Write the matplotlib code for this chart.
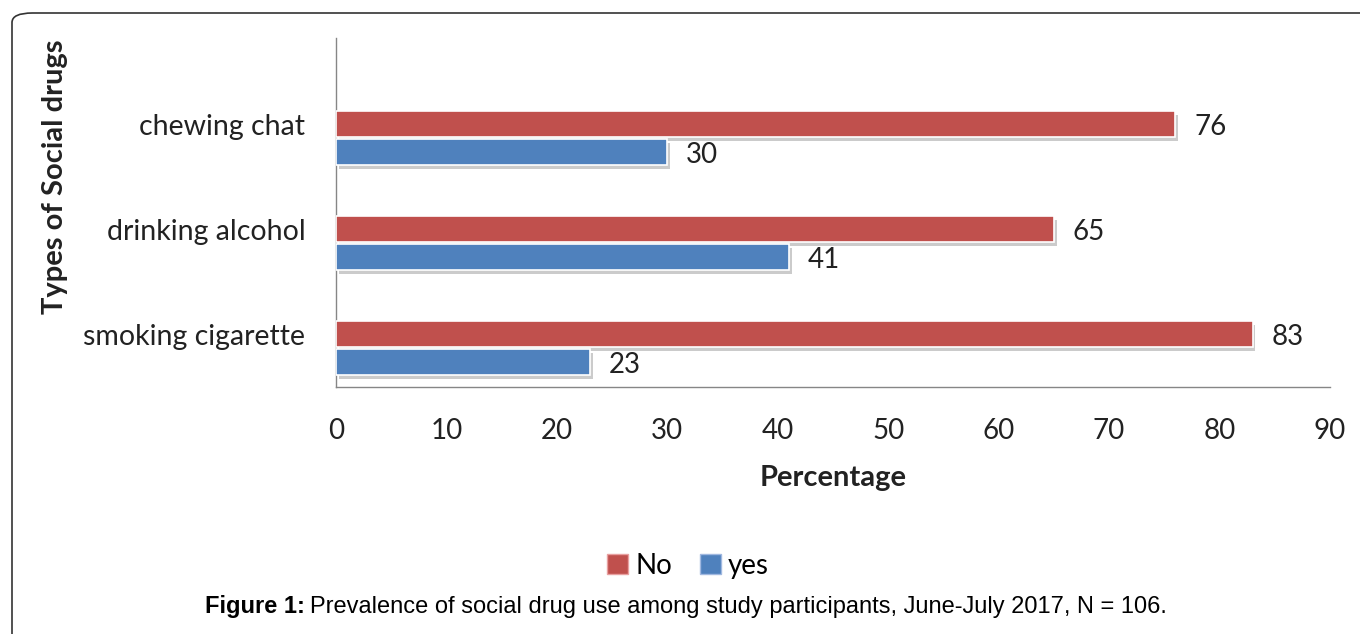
import matplotlib
matplotlib.use("Agg")
import matplotlib.pyplot as plt
import matplotlib.patheffects as pe
from matplotlib.patches import FancyBboxPatch, Patch
import numpy as np

categories = ["smoking cigarette", "drinking alcohol", "chewing chat"]
no_values = [83, 65, 76]
yes_values = [23, 41, 30]
xticks = [0, 10, 20, 30, 40, 50, 60, 70, 80, 90]

RED = "#C0504D"
BLUE = "#4F81BD"
AX = "#868686"
FONT = ["Lato", "DejaVu Sans"]
TXT = "#222222"

W, H = 1360, 634
fig = plt.figure(figsize=(W / 100, H / 100), dpi=100)
fig.patch.set_facecolor("white")

# outer rounded frame
frame = FancyBboxPatch((12 / W, -0.2), 1.2, (H - 13) / H + 0.2,
                       boxstyle="round,pad=0,rounding_size=0.015",
                       transform=fig.transFigure, fill=False,
                       edgecolor="#333333", linewidth=1.2, clip_on=False)
fig.patches.append(frame)

ax = fig.add_axes([336 / W, 1 - 387 / H, (1330 - 336) / W, (387 - 38) / H])
y = np.arange(len(categories))
h = 0.245
shadow = [pe.SimplePatchShadow(offset=(2, -3), shadow_rgbFace="#999999", alpha=0.5), pe.Normal()]
bno = ax.barh(y + h / 2 + 0.01, no_values, height=h, color=RED, edgecolor="white",
              linewidth=1.2, path_effects=shadow, zorder=3)
byes = ax.barh(y - h / 2 - 0.01, yes_values, height=h, color=BLUE, edgecolor="white",
               linewidth=1.2, path_effects=shadow, zorder=3)

for bars, vals in ((bno, no_values), (byes, yes_values)):
    for b, v in zip(bars, vals):
        ax.text(v + 1.7, b.get_y() + b.get_height() / 2 - 0.03, str(v),
                va="center", ha="left", fontsize=20, color=TXT, family=FONT)

ax.set_xlim(0, 90)
ax.set_ylim(-0.371, 2.952)
ax.set_xticks(xticks)
ax.set_xticklabels([str(t) for t in xticks], fontsize=20, color=TXT, family=FONT)
ax.set_yticks(y + 0.13)
ax.set_yticklabels(categories, fontsize=20.5, color=TXT, family=FONT)
ax.tick_params(axis="both", length=0)
ax.tick_params(axis="x", pad=22)
ax.tick_params(axis="y", pad=22)
for s in ("top", "right"):
    ax.spines[s].set_visible(False)
for s in ("left", "bottom"):
    ax.spines[s].set_color(AX)
    ax.spines[s].set_linewidth(1.0)

fig.text(833 / W, 1 - 478 / H, "Percentage", ha="center", va="center",
         fontsize=21, fontweight="bold", color=TXT, family=FONT)
fig.text(55 / W, 1 - 177 / H, "Types of Social drugs", ha="center", va="center",
         rotation=90, fontsize=21, fontweight="bold", color=TXT, family=FONT)

handles = [Patch(facecolor=RED, edgecolor="#e8a0a0"), Patch(facecolor=BLUE, edgecolor="#a0b8e0")]
fig.legend(handles, ["No", "yes"], loc="center", bbox_to_anchor=(688 / W, 1 - 566 / H),
           ncol=2, frameon=False, handlelength=0.75, handleheight=0.75,
           handletextpad=0.25, columnspacing=1.0, prop={"family": FONT, "size": 20})

cap_y = 1 - 607 / H
t1 = fig.text(205 / W, cap_y, "Figure 1:", ha="left", va="center", fontsize=17,
              fontweight="bold", family=["Liberation Sans", "DejaVu Sans"])
fig.canvas.draw()
bb = t1.get_window_extent()
fig.text((bb.x1 + 5) / W, cap_y, "Prevalence of social drug use among study participants, June-July 2017, N = 106.",
         ha="left", va="center", fontsize=17, family=["Liberation Sans", "DejaVu Sans"])

fig.savefig("out.png", dpi=100)
